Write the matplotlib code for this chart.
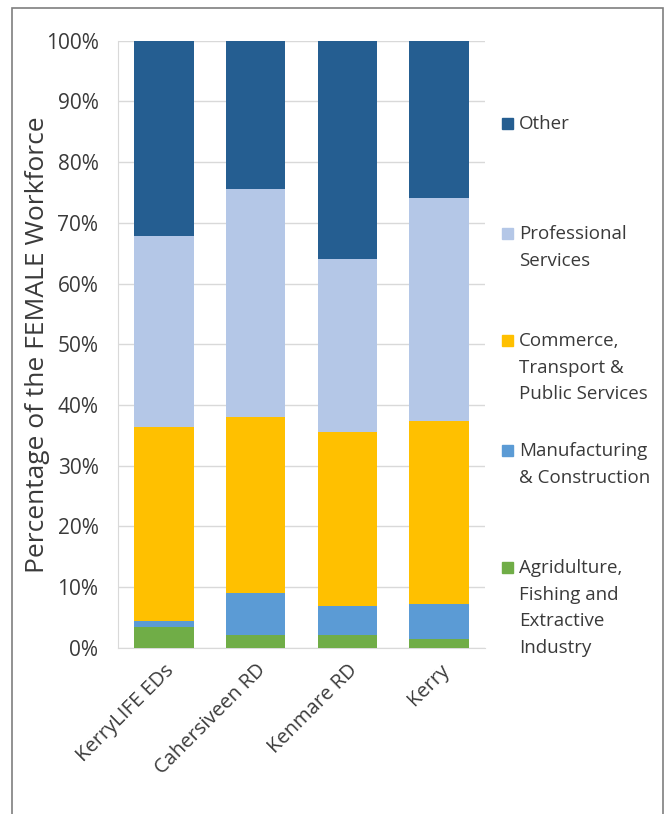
import matplotlib.pyplot as plt
from matplotlib.patches import Rectangle
from matplotlib.ticker import PercentFormatter
import numpy as np

regions = ['KerryLIFE EDs', 'Cahersiveen RD', 'Kenmare RD', 'Kerry']
sectors = ['Agridulture,\nFishing and\nExtractive\nIndustry',
           'Manufacturing\n& Construction',
           'Commerce,\nTransport &\nPublic Services',
           'Professional\nServices',
           'Other']
# shares of the female workforce (%), bottom to top
agri = [3.4, 2.1, 2.1, 1.4]
manuf = [1.0, 7.0, 4.8, 5.8]
commerce = [32.0, 29.0, 28.7, 30.2]
professional = [31.5, 37.5, 28.5, 36.7]
other = [32.1, 24.4, 35.9, 25.9]
colors = ['#70AD47', '#5B9BD5', '#FFC000', '#B4C7E7', '#255E91']

plt.rcParams['font.family'] = ['Open Sans', 'DejaVu Sans']
txt = '#3A3A3A'

fig = plt.figure(figsize=(6.7, 8.14), dpi=100)
ax = fig.add_axes([0.176, 0.204, 0.548, 0.746])

x = np.arange(len(regions))
bottom = np.zeros(len(regions))
for vals, c in zip([agri, manuf, commerce, professional, other], colors):
    ax.bar(x, vals, 0.65, bottom=bottom, color=c, zorder=3)
    bottom += np.array(vals)

ax.set_xlim(-0.5, len(regions) - 0.5)
ax.set_ylim(0, 100)
ax.set_yticks(np.arange(0, 101, 10))
ax.yaxis.set_major_formatter(PercentFormatter(decimals=0))
ax.grid(axis='y', color='#D9D9D9', lw=1, zorder=0)
for s in ['top', 'right']:
    ax.spines[s].set_visible(False)
ax.spines['left'].set_color('#D9D9D9')
ax.spines['bottom'].set_color('#D9D9D9')
ax.tick_params(length=0, labelsize=15, colors=txt)
ax.tick_params(axis='y', pad=14)
ax.set_xticks(x)
ax.set_xticklabels(regions, rotation=45, ha='right', va='top',
                   rotation_mode='anchor', fontsize=14.5)
ax.tick_params(axis='x', pad=9)
ax.set_ylabel('Percentage of the FEMALE Workforce', fontsize=19,
              color=txt, labelpad=-3)

# legend drawn as text entries, top to bottom
leg_y = [123, 233, 340, 450, 567]
for lbl, c, yy in zip(sectors[::-1], colors[::-1], leg_y):
    fy = 1 - yy / 814
    fig.patches.append(Rectangle((502 / 670, fy - 6 / 814), 11 / 670, 11 / 814,
                                 transform=fig.transFigure, color=c))
    fig.text(519 / 670, fy + 8 / 814, lbl, fontsize=13.5, color=txt,
             va='top', ha='left', linespacing=1.62,
             transform=fig.transFigure)

fig.patches.append(Rectangle((12 / 670, -0.05), 651 / 670, 1 - 8 / 814 + 0.05,
                             transform=fig.transFigure, fill=False,
                             edgecolor='#7F7F7F', lw=1.2))

fig.savefig('out.png', dpi=100, facecolor='white')
